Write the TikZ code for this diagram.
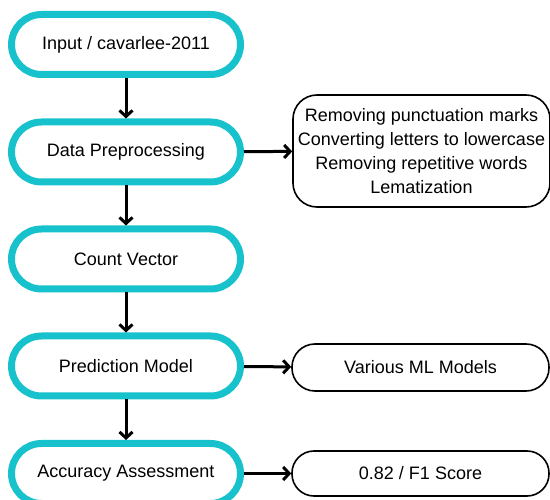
\documentclass[tikz,border=0pt]{standalone}
\usepackage{fontspec}
\setmainfont{Liberation Sans}
\usetikzlibrary{arrows.meta}

\definecolor{boxteal}{RGB}{23,194,204}

\begin{document}
\begin{tikzpicture}[x=1pt,y=1pt,yscale=-1,xscale=1,
  font=\fontsize{18}{24}\selectfont,
  stepbox/.style={draw=boxteal,line width=7pt,fill=white,rounded corners=30pt,
    minimum width=229pt,minimum height=60pt,inner sep=0pt},
  notebox/.style={draw=black,line width=1.6pt,fill=white,
    minimum width=257pt,inner sep=0pt,align=center},
  flow/.style={line width=3pt,-{Straight Barb[length=6pt,width=13pt]}}]
\clip (0,0) rectangle (550,500);

%Shape: Steps
\node [stepbox] (input) at (126,44.5) {Input / cavarlee-2011};
\node [stepbox] (prep) at (126,152) {Data Preprocessing};
\node [stepbox] (count) at (126,259) {Count Vector};
\node [stepbox] (model) at (126,366) {Prediction Model};
\node [stepbox] (assess) at (126,473.5) {Accuracy Assessment};

%Shape: Notes on the right
\node [notebox,minimum height=112pt,rounded corners=24pt] (prepnote) at (421.5,151)
  {Removing punctuation marks\\Converting letters to lowercase\\Removing repetitive words\\Lematization};
\node [notebox,minimum height=47pt,rounded corners=23pt] (modelnote) at (420.5,367.5) {Various ML Models};
\node [notebox,minimum height=45pt,rounded corners=22pt] (scorenote) at (420.5,473.5) {0.82 / F1 Score};

%Straight Lines: down the chain
\draw [flow] (input) -- (prep);
\draw [flow] (prep) -- (count);
\draw [flow] (count) -- (model);
\draw [flow] (model) -- (assess);

%Straight Lines: to the notes
\draw [flow] (prep) -- (prepnote);
\draw [flow] (model) -- (modelnote);
\draw [flow] (assess) -- (scorenote);

\end{tikzpicture}
\end{document}
